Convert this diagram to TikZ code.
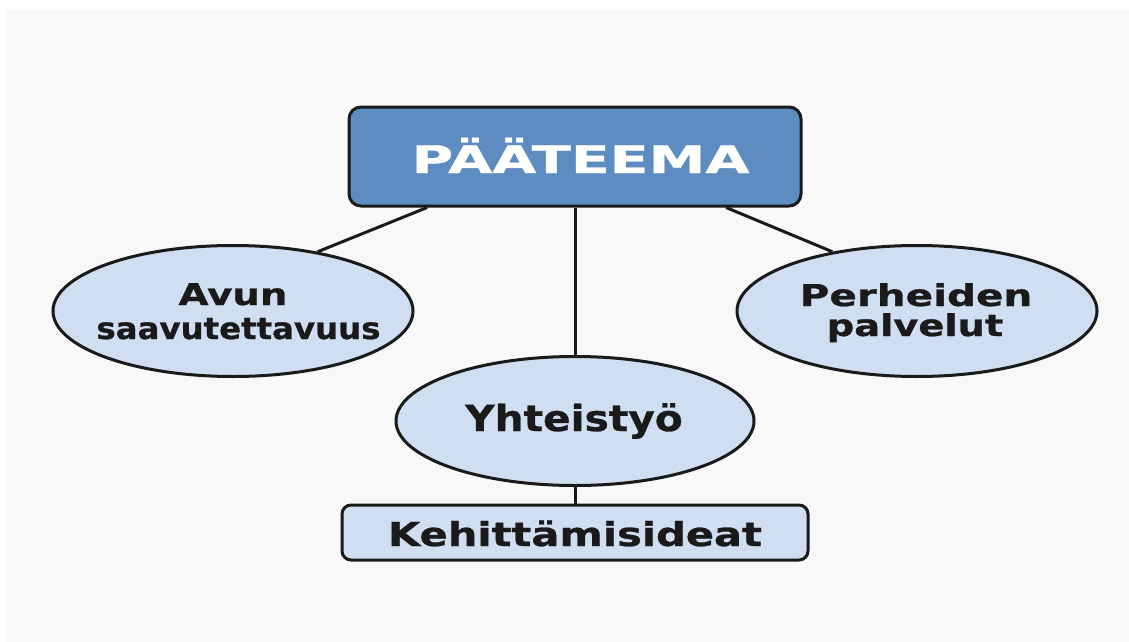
\documentclass[tikz,border=0pt]{standalone}
\usepackage{fontspec}
\setmainfont{DejaVu Sans}[BoldFeatures={FakeBold=0.8}]
\usetikzlibrary{shapes.geometric,calc}
\definecolor{bg}{RGB}{248,248,248}
\definecolor{topfill}{RGB}{93,140,192}
\definecolor{elfill}{RGB}{207,223,241}
\definecolor{ink}{RGB}{26,26,26}
\newcommand{\wx}[2]{\scalebox{#1}[1]{#2}}
\begin{document}
\begin{tikzpicture}[x=1pt,y=-1pt,
  topbox/.style={draw=ink,line width=3pt,fill=topfill,rounded corners=12pt,
    minimum width=452pt,minimum height=99pt,inner sep=0pt},
  oval/.style={ellipse,draw=ink,line width=3pt,fill=elfill,minimum width=360pt,
    minimum height=131pt,inner sep=0pt},
  lowbox/.style={draw=ink,line width=3pt,fill=elfill,rounded corners=9pt,
    minimum width=466pt,minimum height=55pt,inner sep=0pt},
  txt/.style={anchor=base,inner sep=0pt,text=ink,font=\bfseries\fontsize{30}{33}\selectfont},
  link/.style={draw=ink,line width=3pt}]
\useasboundingbox (0,0) rectangle (1129,642);
\fill[white] (0,0) rectangle (1129,642);
\fill[bg] (7,10) rectangle (1129,642);
\node[topbox] (T) at (575,156.5) {};
\node[oval] (L) at (233,311) {};
\node[oval] (R) at (917,311) {};
\node[oval,minimum width=358pt,minimum height=129pt] (M) at (575,421) {};
\node[lowbox] (K) at (575,532.5) {};
\node[txt,text=white,font=\bfseries\fontsize{38}{40}\selectfont] (Tt) at (580.5,173) {\wx{1.5}{PÄÄTEEMA}};
\node[txt] (Lt1) at (233,305) {\wx{1.29}{Avun}};
\node[txt] (Lt2) at (238.5,339) {\wx{1.08}{saavutettavuus}};
\node[txt] (Rt1) at (916,306) {\wx{1.35}{Perheiden}};
\node[txt] (Rt2) at (915,336) {\wx{1.28}{palvelut}};
\node[txt,font=\bfseries\fontsize{36}{40}\selectfont] (Mt) at (574,431) {\wx{1.13}{Yhteistyö}};
\node[txt,font=\bfseries\fontsize{33}{36}\selectfont] (Kt) at (575,546) {\wx{1.26}{Kehittämisideat}};
\draw[link] ($(T.south west)!0.175!(T.south east)$) -- (L.35);
\draw[link] ($(T.south west)!0.832!(T.south east)$) -- (R.145);
\draw[link] (T.south) -- (M.north);
\draw[link] (M.south) -- (K.north);
\end{tikzpicture}
\end{document}
